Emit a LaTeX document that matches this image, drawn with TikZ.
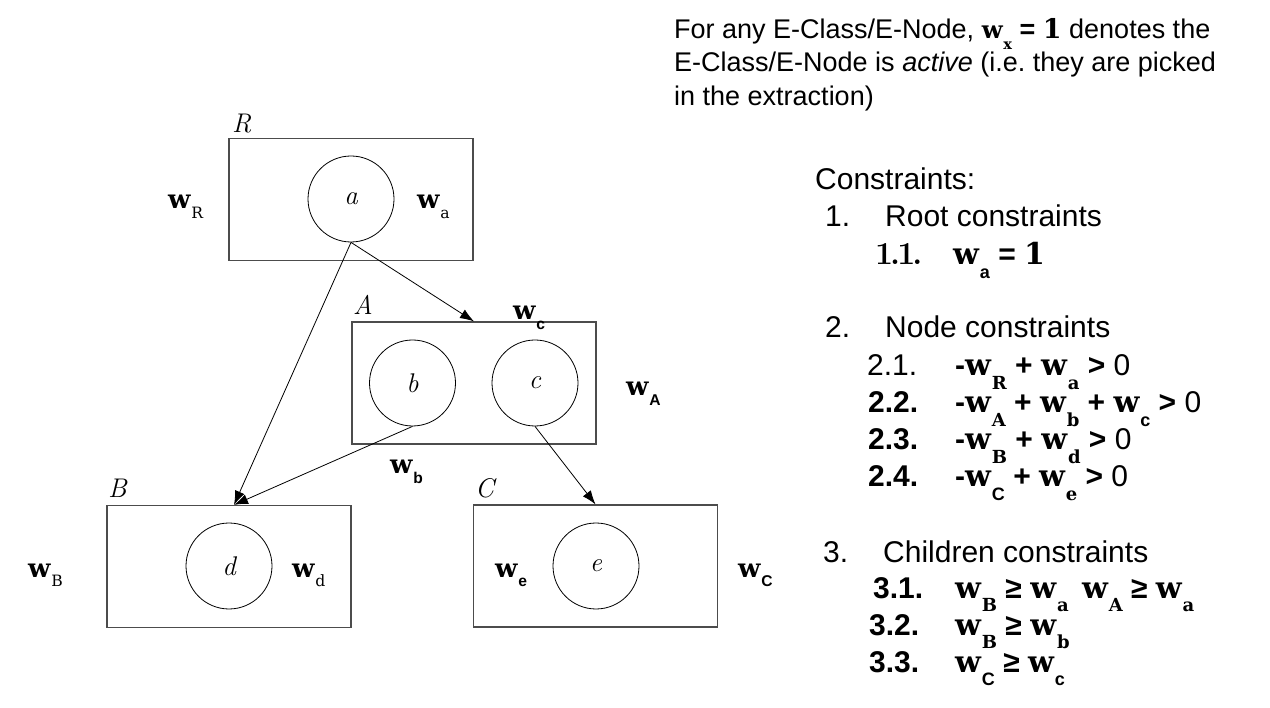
\documentclass[tikz,border=0pt]{standalone}
\usepackage{fontspec}
\setsansfont{Liberation Sans}
\newfontfamily\wfont{DejaVu Serif}
\usepackage{graphicx}
\usetikzlibrary{arrows.meta}
\frenchspacing
\newcommand{\fsr}{\wfont\mdseries}
\newcommand{\fsb}{\wfont\bfseries}
\newcommand{\fss}{\sffamily\bfseries}
\newcommand{\wsub}[3][0.36em]{{\wfont\bfseries w}\kern0.03em\raisebox{-#1}{\scalebox{0.6}{#2#3}}}
\newcommand{\wc}[2]{\wsub[0.44em]{#1}{#2}}
\begin{document}
\begin{tikzpicture}[x=1pt,y=-1pt,
  box/.style={draw=black!70, line width=1.2pt, minimum width=244pt, minimum height=122pt, inner sep=0pt},
  enode/.style={circle, draw=black, line width=0.8pt, minimum size=86pt, inner sep=0pt, font=\fontsize{27}{27}\selectfont\itshape},
  clabel/.style={anchor=base west, inner sep=0pt, font=\fontsize{27}{27}\selectfont\itshape},
  wlab/.style={anchor=base west, inner sep=0pt, font=\fontsize{26}{26}\selectfont},
  txt/.style={anchor=base west, inner sep=0pt, font=\sffamily\fontsize{27}{33}\selectfont},
  ctxt/.style={anchor=base west, inner sep=0pt, font=\sffamily\fontsize{30}{36}\selectfont},
  cnum/.style={anchor=base west, inner sep=0pt, font=\sffamily\bfseries\fontsize{30}{36}\selectfont},
  arr/.style={-{Latex[length=14pt,width=10pt]}, line width=0.8pt},
]
\fill[white] (0,0) rectangle (1270,708);
\useasboundingbox (0,0) rectangle (1270,708);

% boxes (E-classes)
\node[box] (R) at (351,199.5) {};
\node[box] (A) at (474,383) {};
\node[box] (B) at (229,566.5) {};
\node[box] (C) at (595.5,566) {};

% E-nodes
\node[enode] (a) at (351,199) {a};
\node[enode] (b) at (412.5,383) {b};
\node[enode] (c) at (535,383) {c};
\node[enode] (d) at (229,566) {d};
\node[enode] (e) at (596,566) {e};

% class labels
\node[clabel] (lR) at (232,133) {R};
\node[clabel] (lA) at (353,315) {A};
\node[clabel] (lB) at (108,498) {B};
\node[clabel] (lC) at (475,498) {C};

% weight labels
\node[wlab] (wR) at (168,209) {\wsub{\fsr}{R}};
\node[wlab] (wa) at (417,209) {\wsub{\fsr}{a}};
\node[wlab] (wc) at (513,320) {\wsub{\fss}{c}};
\node[wlab] (wA) at (626,396) {\wsub{\fss}{A}};
\node[wlab] (wb) at (390,474) {\wsub{\fss}{b}};
\node[wlab] (wB) at (28,577) {\wsub{\fsr}{B}};
\node[wlab] (wd) at (292,577) {\wsub{\fsr}{d}};
\node[wlab] (we) at (495,577) {\wsub{\fss}{e}};
\node[wlab] (wC) at (738,577) {\wsub{\fss}{C}};

% connectors
\coordinate (Bin) at ([xshift=5pt]B.north);
\draw[arr] (a.south) -- (A.north);
\draw[arr] (a.south) -- (Bin);
\draw[arr] (b.south) -- (Bin);
\draw[arr] (c.south) -- (C.north);

% top text
\node[txt] (t1) at (674,39) {For any E-Class/E-Node, \scalebox{0.9}{\wsub[0.42em]{\fsb}{x}} \textbf{=} {\wfont\bfseries 1} denotes the};
\node[txt] (t2) at (674,72) {E-Class/E-Node is \textit{active} (i.e. they are picked};
\node[txt] (t3) at (674,106) {in the extraction)};

% constraints
\node[ctxt] (ct) at (815,190) {Constraints:};
\node[ctxt] (n1) at (825,227) {1.};
\node[ctxt] (h1) at (885,227) {Root constraints};
\node[cnum, font=\rmfamily\bfseries\fontsize{32}{36}\selectfont] (n11) at (875,265) {1\kern-0.1em.\kern-0.08em1\kern-0.1em.};
\node[cnum] (e11) at (953,265) {\wc{\fss}{a} = {\wfont 1}};

\node[ctxt] (n2) at (825,338) {2.};
\node[ctxt] (h2) at (885,338) {Node constraints};
\node[ctxt] (n21) at (867,376) {2.1.};
\node[cnum] (e21) at (955,376) {-\wc{\fsb}{R} + \wc{\fsb}{a} > {\mdseries 0}};
\node[cnum] (n22) at (868,413) {2.2.};
\node[cnum] (e22) at (955,413) {-\wc{\fsb}{A} + \wc{\fsb}{b} + \wc{\fss}{c} > {\mdseries 0}};
\node[cnum] (n23) at (868,450) {2.3.};
\node[cnum] (e23) at (955,450) {-\wc{\fsb}{B} + \wc{\fsb}{d} > {\mdseries 0}};
\node[cnum] (n24) at (868,487) {2.4.};
\node[cnum] (e24) at (955,487) {-\wc{\fss}{C} + \wc{\fsb}{e} > {\mdseries 0}};

\node[ctxt] (n3) at (823,562) {3.};
\node[ctxt] (h3) at (883,562) {Children constraints};
\node[cnum] (n31) at (873,598) {3.1.};
\node[cnum] (e31) at (955,598) {\wc{\fsb}{B} ≥ \wc{\fsb}{a}\hspace{0.45em}\wc{\fsb}{A} ≥ \wc{\fsb}{a}};
\node[cnum] (n32) at (869,635) {3.2.};
\node[cnum] (e32) at (955,635) {\wc{\fsb}{B} ≥ \wc{\fsb}{b}};
\node[cnum] (n33) at (869,672) {3.3.};
\node[cnum] (e33) at (955,672) {\wc{\fss}{C} ≥ \wc{\fss}{c}};
\end{tikzpicture}
\end{document}
